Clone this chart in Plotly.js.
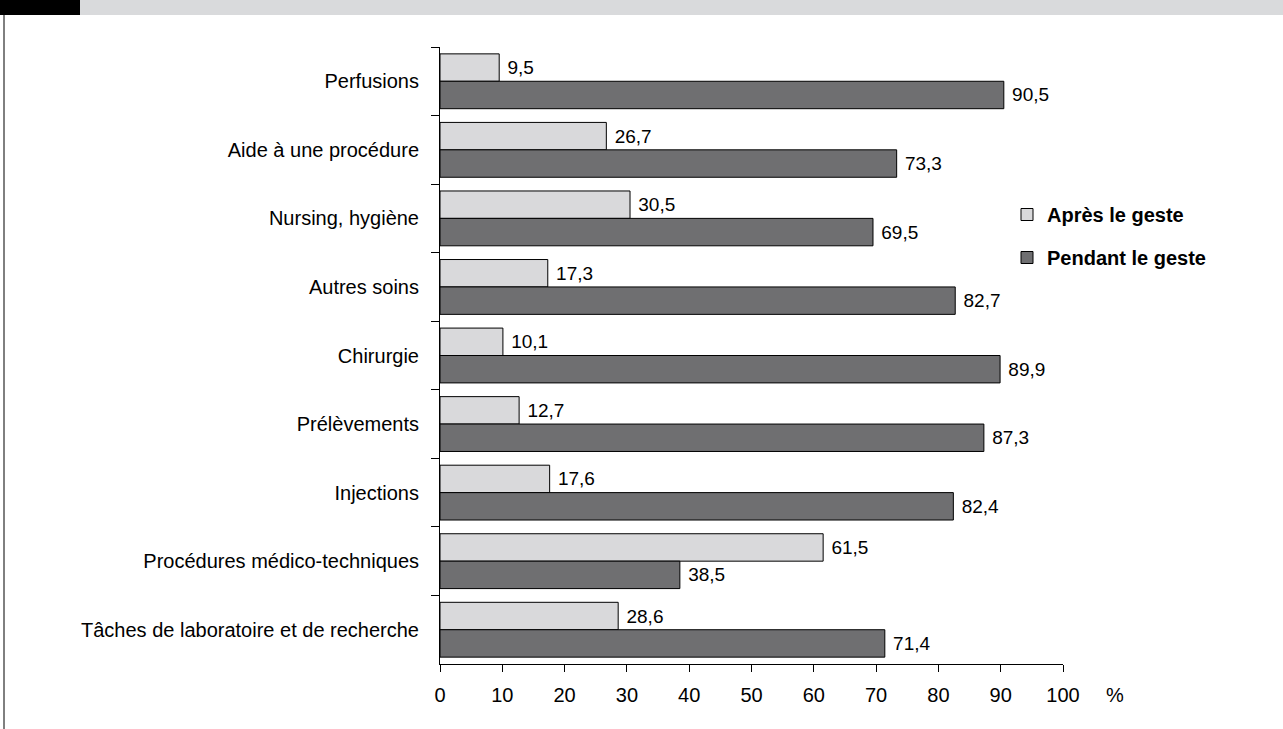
<!DOCTYPE html>
<html>
<head>
<meta charset="utf-8">
<script src="https://cdn.plot.ly/plotly-3.0.1.min.js"></script>
<style>html,body{margin:0;padding:0;background:#fff;}#chart{width:1283px;height:729px;}</style>
</head>
<body>
<div id="chart"></div>
<script>
const categories = ["Perfusions","Aide à une procédure","Nursing, hygiène","Autres soins","Chirurgie","Prélèvements","Injections","Procédures médico-techniques","Tâches de laboratoire et de recherche"];
const apres = [9.5, 26.7, 30.5, 17.3, 10.1, 12.7, 17.6, 61.5, 28.6];
const pendant = [90.5, 73.3, 69.5, 82.7, 89.9, 87.3, 82.4, 38.5, 71.4];
const xTicks = [0,10,20,30,40,50,60,70,80,90,100];
const seriesNames = ["Après le geste", "Pendant le geste"];

const fmt = v => '\u00a0' + v.toFixed(1).replace('.', ',');
const FONT = "Liberation Sans, Arial, sans-serif";

const traces = [
  {type:'bar', orientation:'h', name:seriesNames[0], legendgroup:'a', y:categories, x:apres,
   text:apres.map(fmt), textposition:'outside', cliponaxis:false,
   textfont:{family:FONT,size:19,color:'#000'},
   marker:{color:'#d9d9db', line:{color:'#000', width:1}}},
  {type:'bar', orientation:'h', name:seriesNames[1], legendgroup:'b', y:categories, x:pendant,
   text:pendant.map(fmt), textposition:'outside', cliponaxis:false,
   textfont:{family:FONT,size:19,color:'#000'},
   marker:{color:'#6f6f71', line:{color:'#000', width:1}}}
];

const layout = {
  width:1283, height:729,
  margin:{l:440, r:220, t:47, b:65},
  paper_bgcolor:'#fff', plot_bgcolor:'#fff',
  barmode:'group', bargap:0.2, bargroupgap:0,
  font:{family:FONT, size:20, color:'#000'},
  showlegend:true,
  legend:{x:1+(1007-1063)/623, xanchor:'left', y:1-(195-47)/617, yanchor:'top', traceorder:'grouped',
          font:{family:FONT, size:20, color:'#000', weight:'bold'},
          itemwidth:30, tracegroupgap:14, bgcolor:'rgba(0,0,0,0)'},
  xaxis:{range:[0,100], tickvals:xTicks, ticktext:xTicks.map(String), ticks:'outside', ticklen:7,
         tickcolor:'#000', showline:true, linecolor:'#000', linewidth:1, showgrid:false, zeroline:false,
         tickfont:{family:FONT,size:20}, ticklabelstandoff:6},
  yaxis:{autorange:'reversed', type:'category', ticks:'outside', tickson:'boundaries', ticklen:8,
         tickcolor:'#000', showline:true, linecolor:'#000', linewidth:1, showgrid:false,
         tickfont:{family:FONT,size:20}, ticklabelstandoff:16},
  shapes:[
    {type:'rect', xref:'paper', yref:'paper', x0:-440/623, x1:-360/623, y0:1+32/617, y1:1+50/617, fillcolor:'#000', line:{width:0}},
    {type:'rect', xref:'paper', yref:'paper', x0:-360/623, x1:1+220/623, y0:1+32/617, y1:1+50/617, fillcolor:'#d9dadc', line:{width:0}},
    {type:'line', xref:'paper', yref:'paper', x0:-436/623, x1:-436/623, y0:-65/617, y1:1+32/617, line:{color:'#000', width:1}}
  ],
  annotations:[
    {xref:'paper', yref:'paper', x:1+(1115-1063)/623, y:-(695-664)/617, xanchor:'center', yanchor:'middle', text:'%', showarrow:false,
     font:{family:FONT,size:20,color:'#000'}}
  ]
};

Plotly.newPlot('chart', traces, layout, {displayModeBar:false, staticPlot:true});
</script>
</body>
</html>
